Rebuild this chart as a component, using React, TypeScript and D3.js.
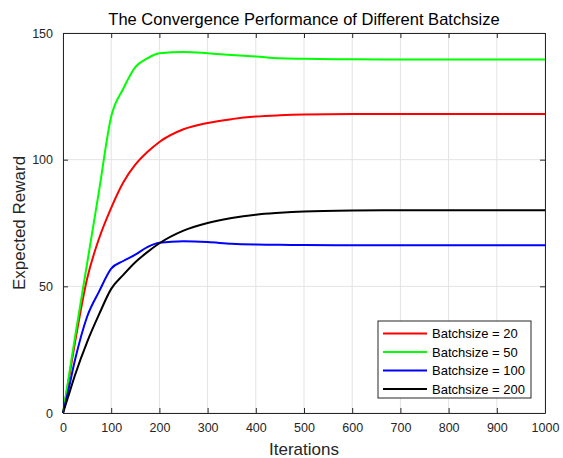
import React, { useEffect, useRef } from 'react';
import * as d3 from 'd3';

const iterations = [0, 10, 25, 50, 75, 100, 125, 150, 175, 200, 250, 300, 350, 400, 450, 500, 600, 700, 800, 900, 1000];
const batch20 = [0, 11, 28, 53, 69, 81, 91, 98, 103, 107, 112, 114.5, 116, 117, 117.5, 117.8, 118, 118, 118, 118, 118];
const batch50 = [0, 12, 30, 59, 88, 117, 128, 136.5, 140, 142, 142.5, 142, 141.3, 140.7, 140, 139.8, 139.6, 139.5, 139.5, 139.5, 139.5];
const batch100 = [0, 8, 21, 38, 48, 57, 60, 62.5, 65.5, 67.2, 67.8, 67.5, 66.8, 66.5, 66.4, 66.3, 66.2, 66.2, 66.2, 66.2, 66.2];
const batch200 = [0, 6, 15, 28, 39, 49, 54.5, 59.5, 63.5, 67, 72, 75, 77, 78.3, 79, 79.5, 79.9, 80, 80, 80, 80];

const seriesNames = ['Batchsize = 20', 'Batchsize = 50', 'Batchsize = 100', 'Batchsize = 200'];
const seriesColors = ['#ff0000', '#00ff00', '#0000ff', '#000000'];
const xTicks = [0, 100, 200, 300, 400, 500, 600, 700, 800, 900, 1000];
const yTicks = [0, 50, 100, 150];

export default function App() {
  const ref = useRef<SVGSVGElement>(null);

  useEffect(() => {
    const W = 563, H = 458;
    const m = { top: 33, right: 18, bottom: 45, left: 63 };
    const w = W - m.left - m.right;
    const h = H - m.top - m.bottom;
    const font = 'Liberation Sans, Arial, sans-serif';

    const svg = d3.select(ref.current);
    svg.selectAll('*').remove();
    svg.append('rect').attr('width', W).attr('height', H).attr('fill', '#fff');

    const x = d3.scaleLinear().domain([0, 1000]).range([0, w]);
    const y = d3.scaleLinear().domain([0, 150]).range([h, 0]);

    const g = svg.append('g').attr('transform', `translate(${m.left},${m.top})`);

    // grid
    g.selectAll('.gx').data(xTicks).enter().append('line')
      .attr('x1', d => x(d)).attr('x2', d => x(d)).attr('y1', 0).attr('y2', h)
      .attr('stroke', '#e3e3e3').attr('stroke-width', 1);
    g.selectAll('.gy').data(yTicks).enter().append('line')
      .attr('y1', d => y(d)).attr('y2', d => y(d)).attr('x1', 0).attr('x2', w)
      .attr('stroke', '#e3e3e3').attr('stroke-width', 1);

    // lines
    const all = [batch20, batch50, batch100, batch200];
    const line = d3.line<number>()
      .x((d, i) => x(iterations[i]))
      .y(d => y(d))
      .curve(d3.curveMonotoneX);
    all.forEach((s, k) => {
      g.append('path').attr('d', line(s)).attr('fill', 'none')
        .attr('stroke', seriesColors[k]).attr('stroke-width', 2);
    });

    // axes box with inward ticks
    const fmt = d3.format('d');
    const axB = d3.axisBottom(x).tickValues(xTicks).tickSizeInner(-5).tickSizeOuter(0).tickPadding(10).tickFormat(fmt);
    const axT = d3.axisTop(x).tickValues(xTicks).tickSizeInner(-5).tickSizeOuter(0).tickFormat(() => '');
    const axL = d3.axisLeft(y).tickValues(yTicks).tickSizeInner(-5).tickSizeOuter(0).tickPadding(10).tickFormat(fmt);
    const axR = d3.axisRight(y).tickValues(yTicks).tickSizeInner(-5).tickSizeOuter(0).tickFormat(() => '');
    [
      g.append('g').attr('transform', `translate(0,${h})`).call(axB),
      g.append('g').call(axT),
      g.append('g').call(axL),
      g.append('g').attr('transform', `translate(${w},0)`).call(axR),
    ].forEach(a => {
      a.select('.domain').attr('stroke', '#262626').attr('stroke-width', 1);
      a.selectAll('line').attr('stroke', '#262626');
      a.selectAll('text').attr('font-family', font).attr('font-size', 12.5).attr('fill', '#262626');
    });

    // title and labels
    svg.append('text').attr('x', m.left + w / 2).attr('y', 25).attr('text-anchor', 'middle')
      .attr('font-family', font).attr('font-size', 16.5).attr('fill', '#000')
      .text('The Convergence Performance of Different Batchsize');
    svg.append('text').attr('x', m.left + w / 2).attr('y', 455).attr('text-anchor', 'middle')
      .attr('font-family', font).attr('font-size', 17).attr('fill', '#262626').text('Iterations');
    svg.append('text').attr('transform', `translate(25,${m.top + h / 2}) rotate(-90)`)
      .attr('text-anchor', 'middle').attr('font-family', font).attr('font-size', 17)
      .attr('fill', '#262626').text('Expected Reward');

    // legend
    const lg = svg.append('g').attr('transform', 'translate(378,321)');
    lg.append('rect').attr('width', 153).attr('height', 77).attr('fill', '#fff')
      .attr('stroke', '#262626').attr('stroke-width', 1);
    seriesNames.forEach((name, i) => {
      const yy = 12.5 + i * 18.5;
      lg.append('line').attr('x1', 5).attr('x2', 49).attr('y1', yy).attr('y2', yy)
        .attr('stroke', seriesColors[i]).attr('stroke-width', 2);
      lg.append('text').attr('x', 54).attr('y', yy).attr('dy', '0.35em')
        .attr('font-family', font).attr('font-size', 13).attr('fill', '#000').text(name);
    });
  }, []);

  return (
    <svg ref={ref} width={563} height={458} style={{ position: 'absolute', left: 0, top: 0 }} />
  );
}
